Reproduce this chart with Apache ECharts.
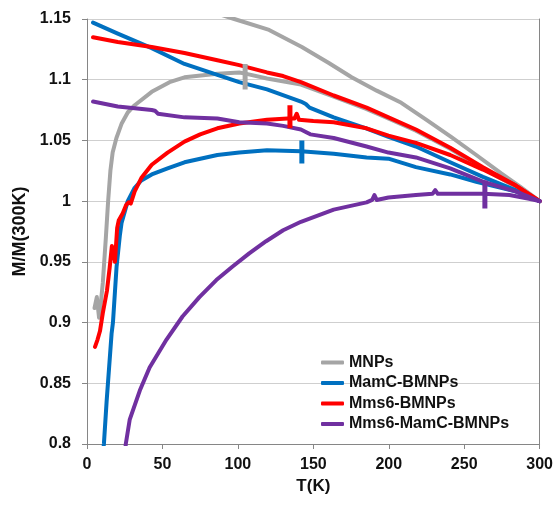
<!DOCTYPE html>
<html>
<head>
<meta charset="utf-8">
<script src="https://cdn.jsdelivr.net/npm/echarts@6/dist/echarts.min.js"></script>
<style>
html,body{margin:0;padding:0;background:#fff;}
#chart{width:556px;height:506px;}
</style>
</head>
<body>
<div id="chart"></div>
<script>
// ---- data (T in K, M/M(300K)) ----
var seriesNames = ['MNPs', 'MamC-BMNPs', 'Mms6-BMNPs', 'Mms6-MamC-BMNPs'];
var xTicks = [0, 50, 100, 150, 200, 250, 300];
var yTicks = [0.8, 0.85, 0.9, 0.95, 1, 1.05, 1.1, 1.15];

var mnpsFC = [[80,1.157],[97.6,1.150],[120.7,1.141],[142.4,1.127],[160,1.114],[175.4,1.102],[192,1.091],[208.3,1.081],[225,1.067],[241.3,1.053],[258,1.038],[274.3,1.023],[287,1.012],[300,1.0]];
var mnpsZFC = [[5,0.912],[6.5,0.921],[8,0.904],[9,0.914],[10.5,0.933],[12.5,0.970],[14,1.000],[15.5,1.025],[17,1.040],[19.5,1.052],[23,1.064],[27,1.073],[31.6,1.079],[42.9,1.090],[54.7,1.098],[64.6,1.102],[86.4,1.105],[100.9,1.106],[105,1.105],[119.3,1.101],[141.8,1.096],[163.5,1.086],[185,1.076],[200,1.068],[218,1.058],[241,1.043],[262,1.027],[284,1.012],[300,1.0]];

var mamcFC = [[4,1.147],[20.4,1.138],[42.9,1.126],[64.6,1.113],[86.4,1.104],[100.9,1.098],[119.3,1.092],[141.8,1.082],[145,1.080],[147.5,1.077],[163.5,1.069],[185,1.060],[199.8,1.053],[218,1.045],[240.7,1.032],[262.4,1.020],[284,1.009],[300,1.0]];
var mamcZFC = [[10.3,0.790],[11.2,0.800],[13,0.835],[16.3,0.891],[17.2,0.900],[19.6,0.946],[21.8,0.972],[22.9,0.982],[27,1.000],[31.6,1.011],[36,1.017],[42.9,1.022],[53.4,1.027],[64.6,1.032],[86.4,1.038],[100.9,1.040],[119.3,1.042],[141.8,1.041],[163.5,1.039],[185.3,1.036],[199.8,1.035],[218,1.028],[240.7,1.022],[258,1.016],[284,1.008],[300,1.0]];

var mms6FC = [[4,1.135],[20.4,1.131],[42.9,1.127],[64.6,1.122],[86.4,1.116],[100.9,1.112],[119.3,1.106],[130,1.103],[141.8,1.098],[163.5,1.087],[185.3,1.077],[199.8,1.069],[218,1.059],[240.7,1.044],[262.4,1.028],[284,1.013],[300,1.0]];
var mms6ZFC = [[5.3,0.880],[7,0.886],[8.6,0.893],[10.5,0.908],[13.2,0.926],[15,0.945],[16.5,0.963],[17.5,0.958],[18.5,0.950],[20,0.978],[21,0.984],[23.7,0.990],[26,0.997],[27.5,0.999],[29,0.998],[31.6,1.008],[36,1.019],[42.9,1.030],[53.4,1.040],[64.6,1.049],[75,1.055],[86.4,1.060],[100.9,1.064],[119.3,1.067],[133,1.068],[137.5,1.068],[139,1.072],[140.5,1.067],[150,1.066],[163.5,1.065],[185.3,1.060],[199.8,1.054],[218,1.048],[240.7,1.038],[262.4,1.026],[284,1.013],[300,1.0]];

var mms6mamcFC = [[4,1.082],[20.4,1.078],[42.9,1.075],[45,1.0745],[47,1.072],[64.6,1.069],[86.4,1.068],[100.9,1.065],[119.3,1.064],[130,1.062],[141.8,1.059],[145,1.057],[148,1.055],[163.5,1.052],[185.3,1.045],[199.8,1.040],[218,1.036],[240.7,1.027],[262.4,1.016],[284,1.008],[300,1.0]];
var mms6mamcZFC = [[24.8,0.785],[25.7,0.800],[28.3,0.820],[35,0.844],[41.5,0.863],[52.7,0.886],[63.3,0.905],[74.5,0.921],[85.7,0.935],[96.3,0.946],[107.5,0.957],[118.7,0.967],[130,0.976],[141.8,0.983],[163.5,0.993],[185.3,0.999],[189,1.001],[190.5,1.005],[192,1.001],[199.8,1.003],[218,1.005],[229,1.006],[230.8,1.009],[232.5,1.006],[240.7,1.006],[262.4,1.006],[280,1.005],[293,1.002],[300,1.0]];

// blocking-temperature markers: [T, lower, upper]
var markerMNPs = [104.8, 1.092, 1.113];
var markerMamC = [142.4, 1.031, 1.050];
var markerMms6 = [134.5, 1.060, 1.079];
var markerMms6MamC = [263.7, 0.994, 1.017];

var colors = ['#A5A5A5', '#0070C0', '#FF0000', '#7030A0'];

function curve(name, data, color) {
  return {
    name: name, type: 'line', data: data, showSymbol: false, symbol: 'none',
    lineStyle: { color: color, width: 4, cap: 'round', join: 'round' },
    itemStyle: { color: color },
    animation: false, clip: true, z: 2
  };
}
function marker(name, m, color) {
  return {
    name: name, type: 'line', data: [[m[0], m[1]], [m[0], m[2]]], showSymbol: false, symbol: 'none',
    lineStyle: { color: color, width: 5 }, itemStyle: { color: color },
    animation: false, z: 3
  };
}

var series = [
  curve(seriesNames[0], mnpsFC, colors[0]),
  curve(seriesNames[0], mnpsZFC, colors[0]),
  curve(seriesNames[1], mamcFC, colors[1]),
  curve(seriesNames[1], mamcZFC, colors[1]),
  curve(seriesNames[2], mms6FC, colors[2]),
  curve(seriesNames[2], mms6ZFC, colors[2]),
  curve(seriesNames[3], mms6mamcFC, colors[3]),
  curve(seriesNames[3], mms6mamcZFC, colors[3]),
  marker(seriesNames[0], markerMNPs, colors[0]),
  marker(seriesNames[1], markerMamC, colors[1]),
  marker(seriesNames[2], markerMms6, colors[2]),
  marker(seriesNames[3], markerMms6MamC, colors[3])
];

var font = 'Liberation Sans, Arial, sans-serif';
var chart = echarts.init(document.getElementById('chart'), null, { renderer: 'canvas' });
chart.setOption({
  backgroundColor: '#fff',
  animation: false,
  grid: { left: 87, right: 14, top: 19, bottom: 62, containLabel: false },
  legend: {
    orient: 'vertical', left: 321, top: 354, padding: 0,
    itemWidth: 23, itemHeight: 4, itemGap: 3.5,
    icon: 'roundRect',
    data: seriesNames.map(function (n, i) { return { name: n, itemStyle: { color: colors[i] } }; }),
    textStyle: { fontFamily: font, fontWeight: 'bold', fontSize: 16, color: '#111', lineHeight: 17 }
  },
  xAxis: {
    type: 'value', min: xTicks[0], max: xTicks[xTicks.length - 1], interval: 50,
    name: 'T(K)', nameLocation: 'middle', nameGap: 34,
    nameTextStyle: { fontFamily: font, fontWeight: 'bold', fontSize: 17, color: '#111' },
    axisLine: { show: true, onZero: false, lineStyle: { color: '#868686', width: 1 } },
    axisTick: { show: true, inside: false, length: 5, lineStyle: { color: '#868686' } },
    axisLabel: { margin: 13, fontFamily: font, fontWeight: 'bold', fontSize: 16, color: '#111' },
    splitLine: { show: false }
  },
  yAxis: [{
    type: 'value', min: yTicks[0], max: yTicks[yTicks.length - 1], interval: 0.05,
    name: 'M/M(300K)', nameLocation: 'middle', nameGap: 57, nameRotate: 90,
    nameTextStyle: { fontFamily: font, fontWeight: 'bold', fontSize: 18, color: '#111' },
    axisLine: { show: true, lineStyle: { color: '#868686', width: 1 } },
    axisTick: { show: true, inside: false, length: 5, lineStyle: { color: '#868686' } },
    axisLabel: {
      margin: 16, fontFamily: font, fontWeight: 'bold', fontSize: 16, color: '#111',
      formatter: function (v) { return String(+v.toFixed(2)); }
    },
    splitLine: { show: true, lineStyle: { color: '#CFCFCF', width: 1 } }
  }, {
    type: 'value', position: 'right', min: yTicks[0], max: yTicks[yTicks.length - 1], interval: 0.05,
    axisLine: { show: true, lineStyle: { color: '#868686', width: 1 } },
    axisTick: { show: false }, axisLabel: { show: false }, splitLine: { show: false }
  }],
  series: series
});
</script>
</body>
</html>
